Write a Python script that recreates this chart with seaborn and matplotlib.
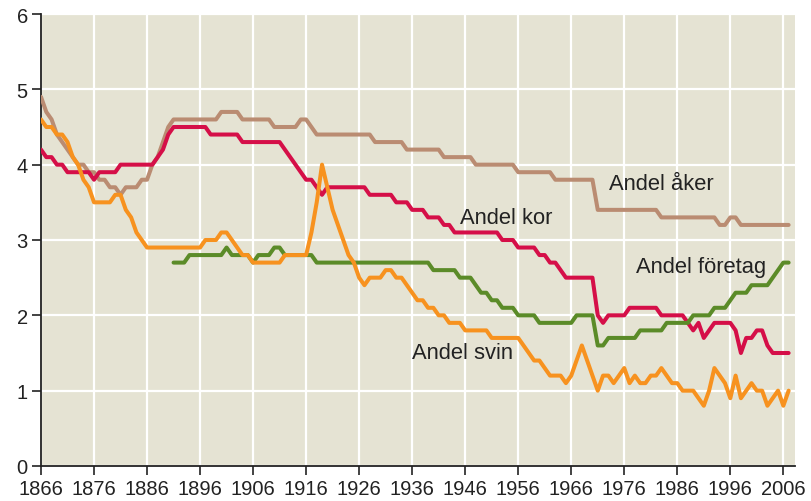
import numpy as np
import pandas as pd
import matplotlib
matplotlib.use('Agg')
import matplotlib.pyplot as plt
import seaborn as sns

# år 1866-2007
years = list(range(1866, 2008))

andel_aker = [
    4.9, 4.7, 4.6, 4.4, 4.3, 4.2, 4.1, 4.0, 4.0, 3.9,            # 1866-1875
    3.9, 3.8, 3.8, 3.7, 3.7, 3.6, 3.7, 3.7, 3.7, 3.8,            # 1876-1885
    3.8, 4.0, 4.1, 4.3, 4.5, 4.6, 4.6, 4.6, 4.6, 4.6,            # 1886-1895
    4.6, 4.6, 4.6, 4.6, 4.7, 4.7, 4.7, 4.7, 4.6, 4.6,            # 1896-1905
    4.6, 4.6, 4.6, 4.6, 4.5, 4.5, 4.5, 4.5, 4.5, 4.6,            # 1906-1915
    4.6, 4.5, 4.4, 4.4, 4.4, 4.4, 4.4, 4.4, 4.4, 4.4,            # 1916-1925
    4.4, 4.4, 4.4, 4.3, 4.3, 4.3, 4.3, 4.3, 4.3, 4.2,            # 1926-1935
    4.2, 4.2, 4.2, 4.2, 4.2, 4.2, 4.1, 4.1, 4.1, 4.1,            # 1936-1945
    4.1, 4.1, 4.0, 4.0, 4.0, 4.0, 4.0, 4.0, 4.0, 4.0,            # 1946-1955
    3.9, 3.9, 3.9, 3.9, 3.9, 3.9, 3.9, 3.8, 3.8, 3.8,            # 1956-1965
    3.8, 3.8, 3.8, 3.8, 3.8, 3.4, 3.4, 3.4, 3.4, 3.4,            # 1966-1975
    3.4, 3.4, 3.4, 3.4, 3.4, 3.4, 3.4, 3.3, 3.3, 3.3,            # 1976-1985
    3.3, 3.3, 3.3, 3.3, 3.3, 3.3, 3.3, 3.3, 3.2, 3.2,            # 1986-1995
    3.3, 3.3, 3.2, 3.2, 3.2, 3.2, 3.2, 3.2, 3.2, 3.2,            # 1996-2005
    3.2, 3.2,                                                    # 2006-2007
]

andel_kor = [
    4.2, 4.1, 4.1, 4.0, 4.0, 3.9, 3.9, 3.9, 3.9, 3.9,
    3.8, 3.9, 3.9, 3.9, 3.9, 4.0, 4.0, 4.0, 4.0, 4.0,
    4.0, 4.0, 4.1, 4.2, 4.4, 4.5, 4.5, 4.5, 4.5, 4.5,
    4.5, 4.5, 4.4, 4.4, 4.4, 4.4, 4.4, 4.4, 4.3, 4.3,
    4.3, 4.3, 4.3, 4.3, 4.3, 4.3, 4.2, 4.1, 4.0, 3.9,
    3.8, 3.8, 3.7, 3.6, 3.7, 3.7, 3.7, 3.7, 3.7, 3.7,
    3.7, 3.7, 3.6, 3.6, 3.6, 3.6, 3.6, 3.5, 3.5, 3.5,
    3.4, 3.4, 3.4, 3.3, 3.3, 3.3, 3.2, 3.2, 3.1, 3.1,
    3.1, 3.1, 3.1, 3.1, 3.1, 3.1, 3.1, 3.0, 3.0, 3.0,
    2.9, 2.9, 2.9, 2.9, 2.8, 2.8, 2.7, 2.7, 2.6, 2.5,
    2.5, 2.5, 2.5, 2.5, 2.5, 2.0, 1.9, 2.0, 2.0, 2.0,
    2.0, 2.1, 2.1, 2.1, 2.1, 2.1, 2.1, 2.0, 2.0, 2.0,
    2.0, 2.0, 1.9, 1.8, 1.9, 1.7, 1.8, 1.9, 1.9, 1.9,
    1.9, 1.8, 1.5, 1.7, 1.7, 1.8, 1.8, 1.6, 1.5, 1.5,
    1.5, 1.5,
]

andel_foretag = [
    np.nan, np.nan, np.nan, np.nan, np.nan, np.nan, np.nan, np.nan, np.nan, np.nan,
    np.nan, np.nan, np.nan, np.nan, np.nan, np.nan, np.nan, np.nan, np.nan, np.nan,
    np.nan, np.nan, np.nan, np.nan, np.nan, 2.7, 2.7, 2.7, 2.8, 2.8,
    2.8, 2.8, 2.8, 2.8, 2.8, 2.9, 2.8, 2.8, 2.8, 2.8,
    2.7, 2.8, 2.8, 2.8, 2.9, 2.9, 2.8, 2.8, 2.8, 2.8,
    2.8, 2.8, 2.7, 2.7, 2.7, 2.7, 2.7, 2.7, 2.7, 2.7,
    2.7, 2.7, 2.7, 2.7, 2.7, 2.7, 2.7, 2.7, 2.7, 2.7,
    2.7, 2.7, 2.7, 2.7, 2.6, 2.6, 2.6, 2.6, 2.6, 2.5,
    2.5, 2.5, 2.4, 2.3, 2.3, 2.2, 2.2, 2.1, 2.1, 2.1,
    2.0, 2.0, 2.0, 2.0, 1.9, 1.9, 1.9, 1.9, 1.9, 1.9,
    1.9, 2.0, 2.0, 2.0, 2.0, 1.6, 1.6, 1.7, 1.7, 1.7,
    1.7, 1.7, 1.7, 1.8, 1.8, 1.8, 1.8, 1.8, 1.9, 1.9,
    1.9, 1.9, 1.9, 2.0, 2.0, 2.0, 2.0, 2.1, 2.1, 2.1,
    2.2, 2.3, 2.3, 2.3, 2.4, 2.4, 2.4, 2.4, 2.5, 2.6,
    2.7, 2.7,
]

andel_svin = [
    4.6, 4.5, 4.5, 4.4, 4.4, 4.3, 4.1, 4.0, 3.8, 3.7,
    3.5, 3.5, 3.5, 3.5, 3.6, 3.6, 3.4, 3.3, 3.1, 3.0,
    2.9, 2.9, 2.9, 2.9, 2.9, 2.9, 2.9, 2.9, 2.9, 2.9,
    2.9, 3.0, 3.0, 3.0, 3.1, 3.1, 3.0, 2.9, 2.8, 2.8,
    2.7, 2.7, 2.7, 2.7, 2.7, 2.7, 2.8, 2.8, 2.8, 2.8,
    2.8, 3.1, 3.5, 4.0, 3.7, 3.4, 3.2, 3.0, 2.8, 2.7,
    2.5, 2.4, 2.5, 2.5, 2.5, 2.6, 2.6, 2.5, 2.5, 2.4,
    2.3, 2.2, 2.2, 2.1, 2.1, 2.0, 2.0, 1.9, 1.9, 1.9,
    1.8, 1.8, 1.8, 1.8, 1.8, 1.7, 1.7, 1.7, 1.7, 1.7,
    1.7, 1.6, 1.5, 1.4, 1.4, 1.3, 1.2, 1.2, 1.2, 1.1,
    1.2, 1.4, 1.6, 1.4, 1.2, 1.0, 1.2, 1.2, 1.1, 1.2,
    1.3, 1.1, 1.2, 1.1, 1.1, 1.2, 1.2, 1.3, 1.2, 1.1,
    1.1, 1.0, 1.0, 1.0, 0.9, 0.8, 1.0, 1.3, 1.2, 1.1,
    0.9, 1.2, 0.9, 1.0, 1.1, 1.0, 1.0, 0.8, 0.9, 1.0,
    0.8, 1.0,
]

series_names = ['Andel åker', 'Andel kor', 'Andel företag', 'Andel svin']
colors = ['#ba8c72', '#d50f48', '#5b8b28', '#f7921f']

df = pd.DataFrame({
    'år': years,
    'Andel åker': andel_aker,
    'Andel kor': andel_kor,
    'Andel företag': andel_foretag,
    'Andel svin': andel_svin,
})
long_df = df.melt(id_vars='år', var_name='serie', value_name='andel')

sns.set_theme(style='white')
plt.rcParams['font.family'] = ['Liberation Sans', 'DejaVu Sans']

fig = plt.figure(figsize=(8.11, 5.02), dpi=100)
ax = fig.add_axes([41 / 811, 1 - 467 / 502, (795 - 41) / 811, (467 - 15) / 502])
ax.set_facecolor('#e5e3d3')

sns.lineplot(data=long_df, x='år', y='andel', hue='serie', hue_order=series_names,
             palette=dict(zip(series_names, colors)), linewidth=2.9, legend=False,
             ax=ax, zorder=3)

ax.set_xlim(1866, 2008.2)
ax.set_ylim(0, 6)
ax.set_xticks(range(1866, 2007, 10))
ax.set_yticks(range(0, 7))
ax.grid(True, color='white', linewidth=1.6, zorder=0)
ax.set_axisbelow(True)
ax.set_xlabel('')
ax.set_ylabel('')

for side in ['top', 'right']:
    ax.spines[side].set_visible(False)
for side in ['left', 'bottom']:
    ax.spines[side].set_color('#222222')
    ax.spines[side].set_linewidth(1.3)

ax.tick_params(axis='both', which='major', direction='out', length=6.5, width=1.2,
               color='#222222', labelsize=14.5, labelcolor='#222222', pad=3,
               left=True, bottom=True)

# etiketter
etikett_fs = 15.8
ax.text(1973.1, 3.75, 'Andel åker', fontsize=etikett_fs, color='#222222', va='center', ha='left')
ax.text(1945.0, 3.3, 'Andel kor', fontsize=etikett_fs, color='#222222', va='center', ha='left')
ax.text(1978.3, 2.65, 'Andel företag', fontsize=etikett_fs, color='#222222', va='center', ha='left')
ax.text(1936.0, 1.5, 'Andel svin', fontsize=etikett_fs, color='#222222', va='center', ha='left')

plt.savefig('out.png', dpi=100)
